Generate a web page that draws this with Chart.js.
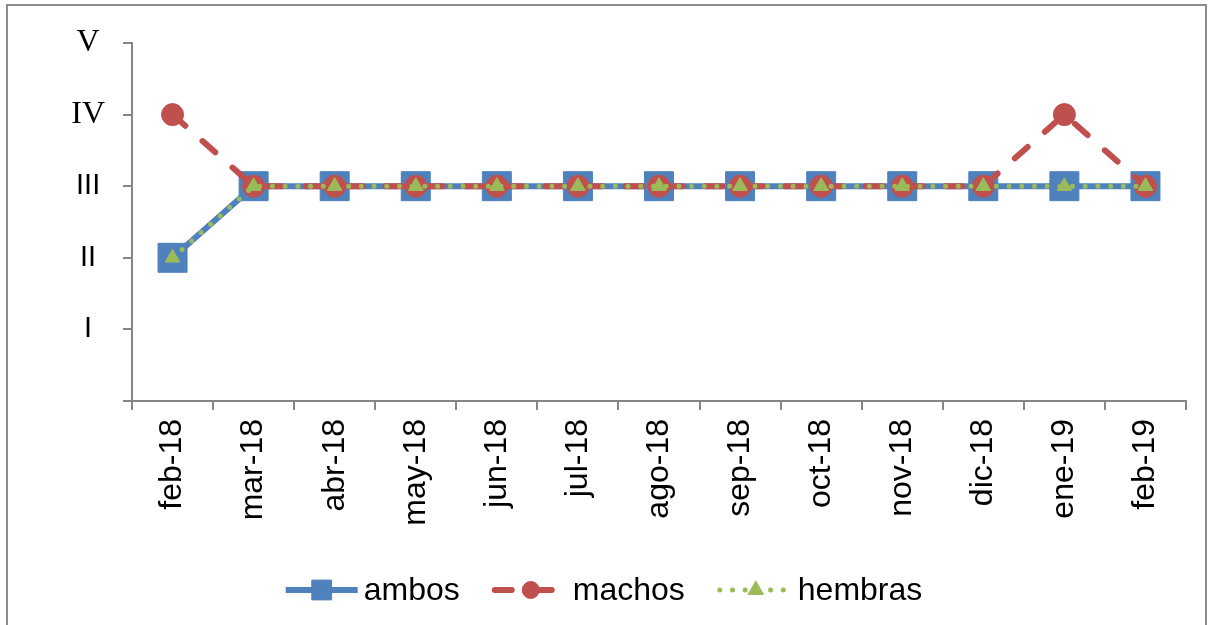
<!DOCTYPE html>
<html>
<head>
<meta charset="utf-8">
<script src="https://cdn.jsdelivr.net/npm/chart.js@4.4.1/dist/chart.umd.min.js"></script>
<style>
  html, body { margin: 0; padding: 0; background: #fff; }
  #wrap { width: 1208px; height: 625px; position: relative; }
</style>
</head>
<body>
<div id="wrap"><canvas id="myChart"></canvas></div>
<script>
// data (1 = I ... 5 = V)
const months = ['feb-18', 'mar-18', 'abr-18', 'may-18', 'jun-18', 'jul-18', 'ago-18', 'sep-18', 'oct-18', 'nov-18', 'dic-18', 'ene-19', 'feb-19'];
const ambos = [2, 3, 3, 3, 3, 3, 3, 3, 3, 3, 3, 3, 3];
const machos = [4, 3, 3, 3, 3, 3, 3, 3, 3, 3, 3, 4, 3];
const hembras = [2, 3, 3, 3, 3, 3, 3, 3, 3, 3, 3, 3, 3];
const stageLabels = ['', 'I', 'II', 'III', 'IV', 'V'];

const BLUE = '#4f81bd';
const RED = '#c0504d';
const GREEN = '#9bbb59';
const AXIS = '#868686';

// frame round the whole picture + white background
const framePlugin = {
    id: 'frame',
    beforeDraw(chart) {
        const c = chart.ctx;
        c.save();
        c.fillStyle = '#fff';
        c.fillRect(0, 0, chart.width, chart.height);
        c.strokeStyle = '#8c8c8c';
        c.lineWidth = 2;
        c.strokeRect(7, 5, 1199, 700);
        c.restore();
    }
};

// excel-like legend: line sample with marker in the middle
const legendPlugin = {
    id: 'lineLegend',
    afterDraw(chart) {
        const c = chart.ctx;
        const lineLen = 72, textGap = 6, itemGap = 35, y = 590;
        const legendRadius = [14, 8.5, 9];
        c.save();
        c.font = '32px "Liberation Sans", Arial, sans-serif';
        c.textBaseline = 'middle';
        const sets = chart.data.datasets;
        let total = 0;
        sets.forEach((ds, i) => {
            total += lineLen + textGap + c.measureText(ds.label).width;
            if (i < sets.length - 1) total += itemGap;
        });
        let x = chart.width / 2 - total / 2;
        sets.forEach((ds, i) => {
            c.save();
            c.strokeStyle = ds.borderColor;
            c.lineWidth = ds.borderWidth;
            c.lineCap = ds.borderCapStyle || 'butt';
            c.setLineDash(ds.borderDash || []);
            c.beginPath();
            c.moveTo(x, y);
            c.lineTo(x + lineLen, y);
            c.stroke();
            c.restore();
            c.fillStyle = ds.pointBackgroundColor;
            c.strokeStyle = ds.pointBorderColor;
            Chart.helpers.drawPoint(c, {
                pointStyle: ds.pointStyle,
                radius: legendRadius[i],
                rotation: 0,
                borderWidth: 1
            }, x + lineLen / 2, y);
            x += lineLen + textGap;
            c.fillStyle = '#000';
            c.textAlign = 'left';
            c.fillText(ds.label, x, y + 1);
            x += c.measureText(ds.label).width + itemGap;
        });
        c.restore();
    }
};

const ctx = document.getElementById('myChart');
new Chart(ctx, {
    type: 'line',
    data: {
        labels: months,
        datasets: [{
            label: 'ambos',
            data: ambos,
            order: 3,
            borderColor: BLUE,
            borderWidth: 6,
            pointStyle: 'rect',
            pointRadius: 20.5,
            pointBackgroundColor: BLUE,
            pointBorderColor: BLUE,
            pointBorderWidth: 1
        }, {
            label: 'machos',
            data: machos,
            order: 2,
            borderColor: RED,
            borderWidth: 6,
            borderDash: [17, 23],
            borderCapStyle: 'round',
            pointStyle: 'circle',
            pointRadius: 11,
            pointBackgroundColor: RED,
            pointBorderColor: RED,
            pointBorderWidth: 1
        }, {
            label: 'hembras',
            data: hembras,
            order: 1,
            borderColor: GREEN,
            borderWidth: 5,
            borderDash: [0, 12.7],
            borderCapStyle: 'round',
            pointStyle: 'triangle',
            pointRadius: 8.5,
            pointBackgroundColor: GREEN,
            pointBorderColor: GREEN,
            pointBorderWidth: 1
        }]
    },
    options: {
        responsive: true,
        maintainAspectRatio: false,
        animation: false,
        events: [],
        layout: {
            padding: { left: 0, top: 43, right: 22, bottom: 84 }
        },
        scales: {
            x: {
                offset: true,
                grid: {
                    offset: true,
                    drawOnChartArea: false,
                    drawTicks: true,
                    tickLength: 9,
                    color: AXIS,
                    lineWidth: 2
                },
                border: { display: true, color: AXIS, width: 2 },
                ticks: {
                    color: '#000',
                    minRotation: 90,
                    maxRotation: 90,
                    padding: 9,
                    autoSkip: false,
                    font: { family: '"Liberation Sans", Arial, sans-serif', size: 32 }
                },
                afterFit(scale) { scale.height = 140; }
            },
            y: {
                min: 0,
                max: 5,
                grid: {
                    drawOnChartArea: false,
                    drawTicks: true,
                    tickLength: 9,
                    color: AXIS,
                    lineWidth: 2
                },
                border: { display: true, color: AXIS, width: 2 },
                ticks: {
                    stepSize: 1,
                    color: '#000',
                    padding: 18,
                    crossAlign: 'center',
                    callback: (v) => stageLabels[v],
                    font: (c) => (c.tick && c.tick.value >= 4)
                        ? { family: '"Liberation Serif", "Times New Roman", serif', size: 32 }
                        : { family: '"Liberation Sans", Arial, sans-serif', size: 29 }
                },
                afterFit(scale) { scale.width = 132; }
            }
        },
        plugins: {
            legend: { display: false },
            tooltip: { enabled: false }
        }
    },
    plugins: [framePlugin, legendPlugin]
});
</script>
</body>
</html>
